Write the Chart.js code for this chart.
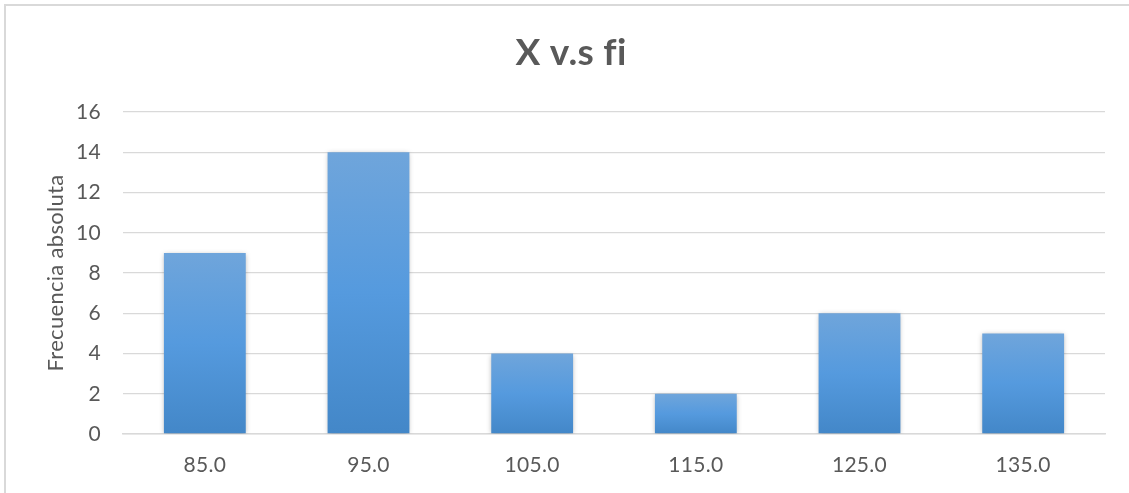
<!DOCTYPE html>
<html>
<head>
<meta charset="utf-8">
<script src="https://cdn.jsdelivr.net/npm/chart.js@4"></script>
<style>
html,body{margin:0;padding:0;background:#fff;}
#wrap{width:1129px;height:493px;position:relative;}
</style>
</head>
<body>
<div id="wrap"><canvas id="c" width="1129" height="493"></canvas></div>
<script>
const categories = ["85.0", "95.0", "105.0", "115.0", "125.0", "135.0"];
const frequencies = [9, 14, 4, 2, 6, 5];
const yTicks = [0, 2, 4, 6, 8, 10, 12, 14, 16];
const chartTitle = "X v.s fi";
const yAxisTitle = "Frecuencia absoluta";

const FONT = "Lato, 'Open Sans', sans-serif";
const TEXT = "#595959";

const framePlugin = {
  id: 'frame',
  beforeDraw(chart) {
    const ctx = chart.ctx;
    ctx.save();
    ctx.fillStyle = '#fff';
    ctx.fillRect(0, 0, chart.width, chart.height);
    ctx.strokeStyle = '#d9d9d9';
    ctx.lineWidth = 2;
    ctx.beginPath();
    ctx.moveTo(5, 494);
    ctx.lineTo(5, 5);
    ctx.lineTo(1129, 5);
    ctx.stroke();
    ctx.restore();
    // tiny letter spacing disables the "fi" ligature so the title reads as separate f and i
    if ('letterSpacing' in ctx) ctx.letterSpacing = '0.3px';
  },
  afterDraw(chart) {
    const ctx = chart.ctx;
    if ('letterSpacing' in ctx) ctx.letterSpacing = '0px';
  }
};

const shadowPlugin = {
  id: 'barShadow',
  beforeDatasetsDraw(chart) {
    const ctx = chart.ctx;
    ctx.save();
    ctx.shadowColor = 'rgba(0,0,0,0.3)';
    ctx.shadowBlur = 5;
    ctx.shadowOffsetX = 0;
    ctx.shadowOffsetY = 1;
  },
  afterDatasetsDraw(chart) {
    chart.ctx.restore();
  }
};

function barGradient(context) {
  const chart = context.chart;
  const ys = chart.scales && chart.scales.y;
  if (!chart.chartArea || !ys || typeof context.raw !== 'number') return '#5b9bd5';
  const top = ys.getPixelForValue(context.raw);
  const bottom = ys.getPixelForValue(0);
  if (!isFinite(top) || !isFinite(bottom) || top === bottom) return '#5b9bd5';
  const g = chart.ctx.createLinearGradient(0, top, 0, bottom);
  g.addColorStop(0, '#6fa5db');
  g.addColorStop(0.5, '#559ade');
  g.addColorStop(1, '#4387c8');
  return g;
}

new Chart(document.getElementById('c'), {
  type: 'bar',
  data: {
    labels: categories,
    datasets: [{
      data: frequencies,
      backgroundColor: barGradient,
      borderWidth: 0,
      barPercentage: 0.5,
      categoryPercentage: 1.0
    }]
  },
  plugins: [framePlugin, shadowPlugin],
  options: {
    responsive: false,
    animation: false,
    devicePixelRatio: 1,
    layout: { padding: { left: 13, right: 0, top: 0, bottom: 0 } },
    plugins: {
      legend: { display: false },
      tooltip: { enabled: false },
      title: {
        display: true,
        text: chartTitle,
        color: TEXT,
        font: { family: FONT, size: 37, weight: 'bold', lineHeight: 1.2 },
        padding: { top: 31, bottom: 36.6 }
      }
    },
    scales: {
      x: {
        grid: { display: false, drawTicks: false },
        border: { display: true, color: '#d9d9d9', width: 1.5 },
        ticks: { color: TEXT, font: { family: FONT, size: 21 }, padding: 19 },
        afterFit(scale) { scale.height = 59; }
      },
      y: {
        min: 0,
        max: 16,
        afterBuildTicks(scale) { scale.ticks = yTicks.map(v => ({ value: v })); },
        grid: { color: '#d9d9d9', lineWidth: 1.3, drawTicks: false },
        border: { display: false },
        ticks: { color: TEXT, font: { family: FONT, size: 21 }, padding: 22 },
        title: {
          display: true,
          text: yAxisTitle,
          color: TEXT,
          font: { family: FONT, size: 22 },
          padding: { top: 30, bottom: 0 }
        },
        afterFit(scale) { scale.width = 110; }
      },
      yRightSpace: {
        position: 'right',
        display: true,
        min: 0,
        max: 16,
        grid: { display: false, drawTicks: false },
        border: { display: false },
        ticks: { display: false },
        afterFit(scale) { scale.width = 24; }
      }
    }
  }
});
</script>
</body>
</html>
